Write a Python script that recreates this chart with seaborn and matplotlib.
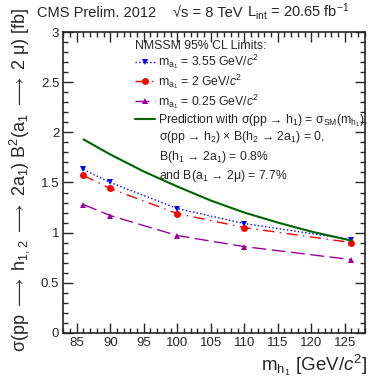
import numpy as np
import pandas as pd
import matplotlib
matplotlib.use('Agg')
import matplotlib.pyplot as plt
import seaborn as sns
from matplotlib.ticker import MultipleLocator, FormatStrFormatter

# Data
mh = [86, 90, 100, 110, 126]
lim_355 = [1.63, 1.50, 1.24, 1.09, 0.93]
lim_2 = [1.57, 1.44, 1.19, 1.05, 0.90]
lim_025 = [1.28, 1.17, 0.97, 0.86, 0.73]
pred_mh = [86, 90, 95, 100, 105, 110, 115, 120, 126]
pred = [1.93, 1.78, 1.61, 1.46, 1.32, 1.20, 1.10, 1.01, 0.92]

labels = [r'm$_{\mathrm{a}_1}$ = 3.55 GeV/$c^2$',
          r'm$_{\mathrm{a}_1}$ = 2 GeV/$c^2$',
          r'm$_{\mathrm{a}_1}$ = 0.25 GeV/$c^2$',
          r'Prediction with σ(pp → h$_1$) = σ$_{\mathrm{SM}}$(m$_{\mathrm{h}_1}$),']
extra_lines = [r'σ(pp → h$_2$) × B(h$_2$ → 2a$_1$) = 0,',
               r'B(h$_1$ → 2a$_1$) = 0.8%',
               r'and B(a$_1$ → 2μ) = 7.7%']

sns.set_style('ticks')
plt.rcParams['font.family'] = ['Liberation Sans', 'DejaVu Sans']
plt.rcParams['mathtext.fontset'] = 'custom'
plt.rcParams['mathtext.rm'] = 'Liberation Sans'
plt.rcParams['mathtext.it'] = 'Liberation Sans:italic'
plt.rcParams['mathtext.bf'] = 'Liberation Sans:bold'
plt.rcParams['mathtext.fallback'] = 'stixsans'

fig = plt.figure(figsize=(3.75, 3.79), dpi=100)
ax = fig.add_axes([0.169, 0.122, 0.804, 0.793])

sns.lineplot(x=mh, y=lim_355, ax=ax, color='#0000ff', marker='v', markersize=5,
             markeredgewidth=0, linestyle=':', linewidth=1, label=labels[0])
sns.lineplot(x=mh, y=lim_2, ax=ax, color='#ff0000', marker='o', markersize=5,
             markeredgewidth=0, linestyle=(0, (8, 4, 1, 4)), linewidth=1, label=labels[1])
sns.lineplot(x=mh, y=lim_025, ax=ax, color='#990099', marker='^', markersize=5,
             markeredgewidth=0, linestyle=(0, (10, 4)), linewidth=1, label=labels[2])
sns.lineplot(x=pred_mh, y=pred, ax=ax, color='#006400', linewidth=1.5, label=labels[3])

ax.set_xlim(83, 128)
ax.set_ylim(0, 3)
ax.xaxis.set_major_locator(MultipleLocator(5))
ax.xaxis.set_minor_locator(MultipleLocator(1))
ax.yaxis.set_major_locator(MultipleLocator(0.5))
ax.yaxis.set_minor_locator(MultipleLocator(0.1))
ax.yaxis.set_major_formatter(FormatStrFormatter('%g'))
ax.tick_params(which='both', direction='in', top=True, right=True, labelsize=9.5, width=1)
ax.tick_params(which='major', length=7, pad=3)
ax.tick_params(which='minor', length=3.5)
for s in ax.spines.values():
    s.set_linewidth(1.2)
ax.set_xlabel('')
ax.set_ylabel('')

leg = ax.legend(title='NMSSM 95% CL Limits:', loc='upper left', bbox_to_anchor=(0.238, 0.975),
                frameon=False, fontsize=8.8, title_fontsize=8.8, handlelength=1.6,
                handletextpad=0.3, labelspacing=0.08, borderpad=0, borderaxespad=0,
                alignment='left')

for i, t in enumerate(extra_lines):
    ax.text(0.317, 0.65 - i * 0.064, t, transform=ax.transAxes, fontsize=8.8, va='center')

fig.text(0.099, 0.955, 'CMS Prelim. 2012', fontsize=10.5, va='baseline')
fig.text(0.461, 0.955, '√s = 8 TeV', fontsize=10.5, va='baseline')
fig.text(0.659, 0.955, r'L$_{\mathrm{int}}$ = 20.65 fb$^{-1}$', fontsize=10.5, va='baseline')

fig.text(0.978, 0.022, r'm$_{\mathrm{h}_1}$ [GeV/$c^2$]', fontsize=13.5, ha='right', va='baseline')
fig.text(0.05, 0.98,
         r'σ(pp $\longrightarrow$ h$_{1,2}$ $\longrightarrow$ 2a$_1$) B$^2$(a$_1$ $\longrightarrow$ 2 μ) [fb]',
         fontsize=13, rotation=90, ha='center', va='top')

fig.savefig('out.png', dpi=100)
